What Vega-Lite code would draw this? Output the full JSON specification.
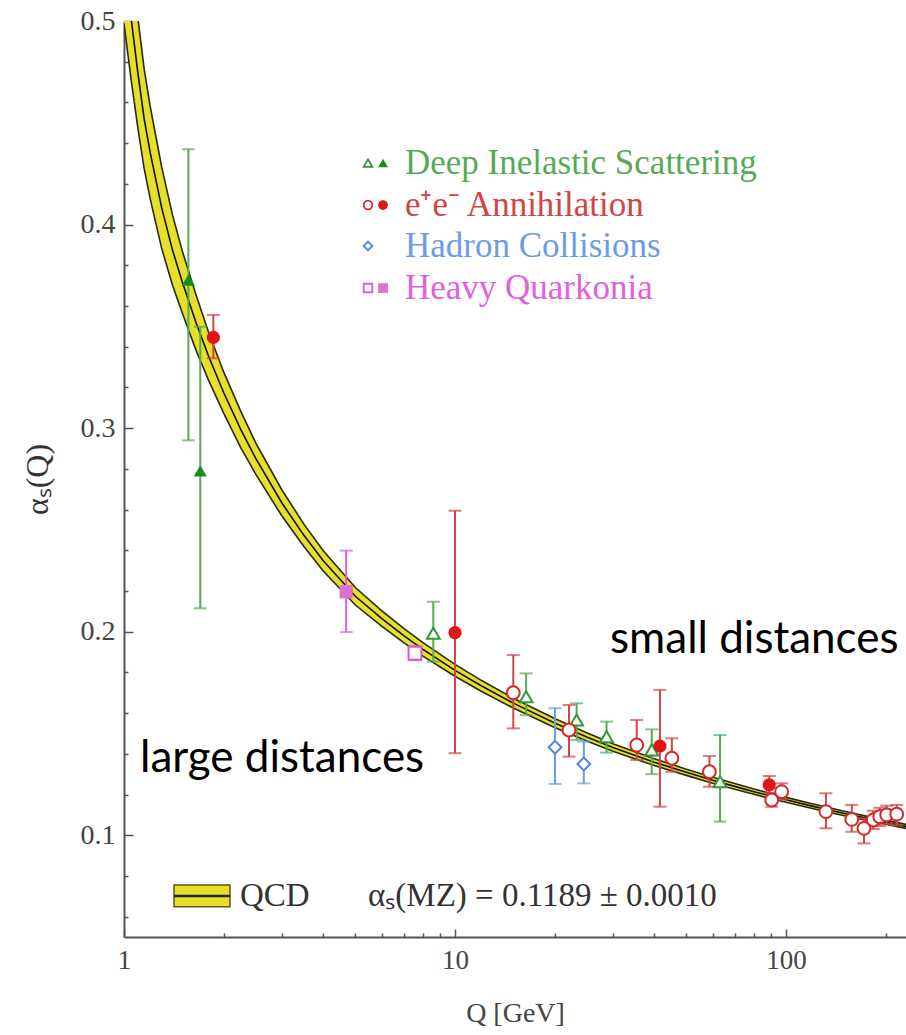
{
  "$schema": "https://vega.github.io/schema/vega-lite/v6.json",
  "width": 782,
  "height": 916,
  "autosize": "none",
  "padding": {"left": 124, "top": 21, "right": 0, "bottom": 98},
  "background": "white",
  "config": {"view": {"stroke": null}, "font": "Liberation Serif"},
  "datasets": {
    "curve": [
      {"Q": 1.00, "a": 0.533, "lo": 0.4989, "hi": 0.5671},
      {"Q": 1.05, "a": 0.5018, "lo": 0.4716, "hi": 0.5320},
      {"Q": 1.10, "a": 0.4751, "lo": 0.4480, "hi": 0.5022},
      {"Q": 1.15, "a": 0.4522, "lo": 0.4277, "hi": 0.4767},
      {"Q": 1.20, "a": 0.4353, "lo": 0.4126, "hi": 0.4580},
      {"Q": 1.30, "a": 0.4082, "lo": 0.3882, "hi": 0.4282},
      {"Q": 1.40, "a": 0.3877, "lo": 0.3704, "hi": 0.4050},
      {"Q": 1.50, "a": 0.3718, "lo": 0.3566, "hi": 0.3870},
      {"Q": 1.65, "a": 0.3519, "lo": 0.3383, "hi": 0.3655},
      {"Q": 1.80, "a": 0.3354, "lo": 0.3236, "hi": 0.3472},
      {"Q": 2.00, "a": 0.3175, "lo": 0.3074, "hi": 0.3276},
      {"Q": 2.25, "a": 0.2995, "lo": 0.2905, "hi": 0.3085},
      {"Q": 2.50, "a": 0.2851, "lo": 0.2774, "hi": 0.2928},
      {"Q": 3.00, "a": 0.2632, "lo": 0.2568, "hi": 0.2696},
      {"Q": 3.50, "a": 0.2472, "lo": 0.2417, "hi": 0.2527},
      {"Q": 4.00, "a": 0.2348, "lo": 0.2298, "hi": 0.2398},
      {"Q": 5.00, "a": 0.2174, "lo": 0.2131, "hi": 0.2217},
      {"Q": 6.00, "a": 0.2065, "lo": 0.2027, "hi": 0.2103},
      {"Q": 7.00, "a": 0.1981, "lo": 0.1946, "hi": 0.2016},
      {"Q": 8.00, "a": 0.1913, "lo": 0.1880, "hi": 0.1946},
      {"Q": 10, "a": 0.1810, "lo": 0.1781, "hi": 0.1839},
      {"Q": 12, "a": 0.1734, "lo": 0.1707, "hi": 0.1761},
      {"Q": 15, "a": 0.1649, "lo": 0.1625, "hi": 0.1673},
      {"Q": 20, "a": 0.1551, "lo": 0.1529, "hi": 0.1573},
      {"Q": 25, "a": 0.1483, "lo": 0.1463, "hi": 0.1503},
      {"Q": 30, "a": 0.1431, "lo": 0.1413, "hi": 0.1449},
      {"Q": 40, "a": 0.1359, "lo": 0.1342, "hi": 0.1376},
      {"Q": 50, "a": 0.1309, "lo": 0.1294, "hi": 0.1324},
      {"Q": 60, "a": 0.1270, "lo": 0.1255, "hi": 0.1285},
      {"Q": 70, "a": 0.1240, "lo": 0.1226, "hi": 0.1254},
      {"Q": 80, "a": 0.1214, "lo": 0.1201, "hi": 0.1227},
      {"Q": 91.19, "a": 0.1190, "lo": 0.1177, "hi": 0.1203},
      {"Q": 100, "a": 0.1174, "lo": 0.1162, "hi": 0.1186},
      {"Q": 120, "a": 0.1143, "lo": 0.1131, "hi": 0.1155},
      {"Q": 150, "a": 0.1107, "lo": 0.1096, "hi": 0.1118},
      {"Q": 180, "a": 0.1079, "lo": 0.1069, "hi": 0.1089},
      {"Q": 200, "a": 0.1064, "lo": 0.1054, "hi": 0.1074},
      {"Q": 231, "a": 0.1043, "lo": 0.1033, "hi": 0.1053}
    ],
    "pts": [
      {"Q": 1.565, "a": 0.3728, "lo": 0.294, "hi": 0.437, "group": "DIS", "nnlo": true},
      {"Q": 1.70, "a": 0.279, "lo": 0.2115, "hi": 0.3498, "group": "DIS", "nnlo": true},
      {"Q": 8.6, "a": 0.1992, "lo": 0.1853, "hi": 0.2147, "group": "DIS", "nnlo": false},
      {"Q": 16.4, "a": 0.168, "lo": 0.159, "hi": 0.1795, "group": "DIS", "nnlo": false},
      {"Q": 23.3, "a": 0.1566, "lo": 0.1468, "hi": 0.1648, "group": "DIS", "nnlo": false},
      {"Q": 28.7, "a": 0.1484, "lo": 0.1406, "hi": 0.1558, "group": "DIS", "nnlo": false},
      {"Q": 39.3, "a": 0.1419, "lo": 0.130, "hi": 0.152, "group": "DIS", "nnlo": false},
      {"Q": 63.2, "a": 0.1263, "lo": 0.1067, "hi": 0.1492, "group": "DIS", "nnlo": false},
      {"Q": 1.862, "a": 0.3446, "lo": 0.3343, "hi": 0.3556, "group": "ee", "nnlo": true},
      {"Q": 10.0, "a": 0.1995, "lo": 0.1403, "hi": 0.2594, "group": "ee", "nnlo": true},
      {"Q": 15.0, "a": 0.170, "lo": 0.1525, "hi": 0.1885, "group": "ee", "nnlo": false},
      {"Q": 22.1, "a": 0.1517, "lo": 0.1386, "hi": 0.164, "group": "ee", "nnlo": false},
      {"Q": 35.4, "a": 0.1443, "lo": 0.137, "hi": 0.1566, "group": "ee", "nnlo": false},
      {"Q": 41.6, "a": 0.1438, "lo": 0.114, "hi": 0.1714, "group": "ee", "nnlo": true},
      {"Q": 45.2, "a": 0.1378, "lo": 0.1312, "hi": 0.1476, "group": "ee", "nnlo": false},
      {"Q": 58.7, "a": 0.1312, "lo": 0.1238, "hi": 0.1389, "group": "ee", "nnlo": false},
      {"Q": 89, "a": 0.1247, "lo": 0.1207, "hi": 0.1291, "group": "ee", "nnlo": true},
      {"Q": 97, "a": 0.1214, "lo": 0.1175, "hi": 0.1255, "group": "ee", "nnlo": false},
      {"Q": 90.5, "a": 0.1173, "lo": 0.114, "hi": 0.1205, "group": "ee", "nnlo": false},
      {"Q": 132, "a": 0.1116, "lo": 0.1034, "hi": 0.1206, "group": "ee", "nnlo": false},
      {"Q": 158, "a": 0.1078, "lo": 0.1017, "hi": 0.1149, "group": "ee", "nnlo": false},
      {"Q": 172, "a": 0.1034, "lo": 0.096, "hi": 0.1083, "group": "ee", "nnlo": false},
      {"Q": 183.5, "a": 0.1075, "lo": 0.103, "hi": 0.112, "group": "ee", "nnlo": false},
      {"Q": 192, "a": 0.1091, "lo": 0.1045, "hi": 0.1135, "group": "ee", "nnlo": false},
      {"Q": 201.5, "a": 0.110, "lo": 0.1055, "hi": 0.1145, "group": "ee", "nnlo": false},
      {"Q": 216, "a": 0.1104, "lo": 0.105, "hi": 0.1149, "group": "ee", "nnlo": false},
      {"Q": 20.05, "a": 0.1432, "lo": 0.1252, "hi": 0.1624, "group": "hadron", "nnlo": false},
      {"Q": 24.5, "a": 0.135, "lo": 0.1255, "hi": 0.146, "group": "hadron", "nnlo": false},
      {"Q": 4.69, "a": 0.2196, "lo": 0.1998, "hi": 0.2398, "group": "quark", "nnlo": true},
      {"Q": 7.57, "a": 0.1894, "lo": 0.186, "hi": 0.193, "group": "quark", "nnlo": false}
    ],
    "legsym": [
      {"Q": 5.46, "a": 0.4302, "group": "DIS", "nnlo": false},
      {"Q": 6.06, "a": 0.4302, "group": "DIS", "nnlo": true},
      {"Q": 5.46, "a": 0.4096, "group": "ee", "nnlo": false},
      {"Q": 6.06, "a": 0.4096, "group": "ee", "nnlo": true},
      {"Q": 5.46, "a": 0.3895, "group": "hadron", "nnlo": false},
      {"Q": 5.46, "a": 0.3688, "group": "quark", "nnlo": false},
      {"Q": 6.06, "a": 0.3688, "group": "quark", "nnlo": true}
    ],
    "legtxt": [
      {"Q": 7.06, "a": 0.4302, "group": "DIS", "label": "Deep Inelastic Scattering"},
      {"Q": 7.06, "a": 0.4096, "group": "ee", "label": "e⁺e⁻  Annihilation"},
      {"Q": 7.06, "a": 0.3895, "group": "hadron", "label": "Hadron Collisions"},
      {"Q": 7.06, "a": 0.3688, "group": "quark", "label": "Heavy Quarkonia"}
    ],
    "notes": [
      {"Q": 1.118, "a": 0.131, "label": "large distances"},
      {"Q": 29.4, "a": 0.1895, "label": "small distances"}
    ],
    "key": [
      {"Q": 1.416, "Q2": 2.09, "a": 0.0648, "a2": 0.0756, "am": 0.0702}
    ],
    "keytxt": [
      {"Q": 2.24, "a": 0.0702, "label": "QCD"},
      {"Q": 5.46, "a": 0.0702, "label": "αₛ(MZ) = 0.1189 ± 0.0010"}
    ]
  },
  "layer": [
    {
      "data": {"name": "curve"},
      "mark": {"type": "area", "color": "#e6df2c", "clip": true},
      "encoding": {
        "x": {
          "field": "Q", "type": "quantitative",
          "scale": {"type": "log", "domain": [1, 230.4], "nice": false},
          "axis": {
            "title": "Q [GeV]",
            "values": [1, 2, 3, 4, 5, 6, 7, 8, 9, 10, 20, 30, 40, 50, 60, 70, 80, 90, 100, 200],
            "labelExpr": "indexof([1, 10, 100], datum.value) >= 0 ? format(datum.value, 'd') : ''",
            "tickSize": {"condition": {"test": "indexof([1, 10, 100], datum.value) >= 0", "value": -8}, "value": -4},
            "tickColor": "#555",
            "tickWidth": 1.5,
            "domainColor": "#555",
            "domainWidth": 2,
            "grid": false,
            "labelFlush": false,
            "labelOverlap": false,
            "labelFont": "Liberation Serif",
            "labelFontSize": 27,
            "labelColor": "#444",
            "labelPadding": 18,
            "titleFont": "Liberation Serif",
            "titleFontSize": 28,
            "titleFontWeight": "normal",
            "titleColor": "#444",
            "titlePadding": 22
          }
        },
        "y": {
          "field": "lo", "type": "quantitative",
          "scale": {"domain": [0.05, 0.5], "nice": false, "zero": false},
          "axis": {
            "title": "αₛ(Q)",
            "values": [0.06, 0.08, 0.1, 0.12, 0.14, 0.16, 0.18, 0.2, 0.22, 0.24, 0.26, 0.28, 0.3, 0.32, 0.34, 0.36, 0.38, 0.4, 0.42, 0.44, 0.46, 0.48, 0.5],
            "labelExpr": "abs(datum.value * 10 - round(datum.value * 10)) < 0.001 ? format(datum.value, '.1f') : ''",
            "tickSize": {"condition": {"test": "abs(datum.value * 10 - round(datum.value * 10)) < 0.001", "value": -9}, "value": -4},
            "tickColor": "#555",
            "tickWidth": 1.5,
            "domainColor": "#555",
            "domainWidth": 2,
            "grid": false,
            "labelOverlap": false,
            "labelFont": "Liberation Serif",
            "labelFontSize": 28,
            "labelColor": "#444",
            "labelPadding": 18,
            "titleFont": "Liberation Serif",
            "titleFontSize": 32,
            "titleFontWeight": "normal",
            "titleColor": "#333",
            "titlePadding": 26
          }
        },
        "y2": {"field": "hi"}
      }
    },
    {
      "data": {"name": "curve"},
      "mark": {"type": "line", "color": "#2a2a10", "strokeWidth": 1.6, "clip": true},
      "encoding": {"x": {"field": "Q", "type": "quantitative"}, "y": {"field": "hi", "type": "quantitative"}}
    },
    {
      "data": {"name": "curve"},
      "mark": {"type": "line", "color": "#2a2a10", "strokeWidth": 1.6, "clip": true},
      "encoding": {"x": {"field": "Q", "type": "quantitative"}, "y": {"field": "lo", "type": "quantitative"}}
    },
    {
      "data": {"name": "curve"},
      "mark": {"type": "line", "color": "#111111", "strokeWidth": 1.6, "clip": true},
      "encoding": {"x": {"field": "Q", "type": "quantitative"}, "y": {"field": "a", "type": "quantitative"}}
    },
    {
      "mark": {"type": "rule", "color": "#555", "strokeWidth": 2},
      "encoding": {"y": {"datum": 0.5}}
    },
    {
      "data": {"name": "pts"},
      "mark": {"type": "rule", "strokeWidth": 2},
      "encoding": {
        "x": {"field": "Q", "type": "quantitative"},
        "y": {"field": "lo", "type": "quantitative"},
        "y2": {"field": "hi"},
        "color": {"field": "group", "type": "nominal", "legend": null,
          "scale": {"domain": ["DIS", "ee", "hadron", "quark"], "range": ["#55ab55", "#d24545", "#6f9be6", "#e060e0"]}}
      }
    },
    {
      "data": {"name": "pts"},
      "mark": {"type": "tick", "orient": "horizontal", "size": 13, "thickness": 2},
      "encoding": {
        "x": {"field": "Q", "type": "quantitative"},
        "y": {"field": "lo", "type": "quantitative"},
        "color": {"field": "group", "type": "nominal", "legend": null}
      }
    },
    {
      "data": {"name": "pts"},
      "mark": {"type": "tick", "orient": "horizontal", "size": 13, "thickness": 2},
      "encoding": {
        "x": {"field": "Q", "type": "quantitative"},
        "y": {"field": "hi", "type": "quantitative"},
        "color": {"field": "group", "type": "nominal", "legend": null}
      }
    },
    {
      "data": {"name": "pts"},
      "transform": [{"filter": "!datum.nnlo"}],
      "mark": {"type": "point", "filled": false, "fill": "white", "fillOpacity": 1, "strokeWidth": 2, "size": 165, "opacity": 1},
      "encoding": {
        "x": {"field": "Q", "type": "quantitative"},
        "y": {"field": "a", "type": "quantitative"},
        "stroke": {"field": "group", "type": "nominal", "legend": null,
          "scale": {"domain": ["DIS", "ee", "hadron", "quark"], "range": ["#2f9a35", "#d42a2a", "#4f84e0", "#e050e0"]}},
        "shape": {"field": "group", "type": "nominal", "legend": null,
          "scale": {"domain": ["DIS", "ee", "hadron", "quark"], "range": ["triangle-up", "circle", "diamond", "square"]}}
      }
    },
    {
      "data": {"name": "pts"},
      "transform": [{"filter": "datum.nnlo"}],
      "mark": {"type": "point", "filled": true, "size": 175, "opacity": 1},
      "encoding": {
        "x": {"field": "Q", "type": "quantitative"},
        "y": {"field": "a", "type": "quantitative"},
        "fill": {"field": "group", "type": "nominal", "legend": null,
          "scale": {"domain": ["DIS", "ee", "hadron", "quark"], "range": ["#1b8a22", "#e01515", "#4f84e0", "#e070d0"]}},
        "shape": {"field": "group", "type": "nominal", "legend": null}
      }
    },
    {
      "data": {"name": "legsym"},
      "transform": [{"filter": "!datum.nnlo"}],
      "mark": {"type": "point", "filled": false, "fill": "white", "fillOpacity": 1, "strokeWidth": 1.8, "size": 75, "opacity": 1},
      "encoding": {
        "x": {"field": "Q", "type": "quantitative"},
        "y": {"field": "a", "type": "quantitative"},
        "stroke": {"field": "group", "type": "nominal", "legend": null},
        "shape": {"field": "group", "type": "nominal", "legend": null}
      }
    },
    {
      "data": {"name": "legsym"},
      "transform": [{"filter": "datum.nnlo"}],
      "mark": {"type": "point", "filled": true, "size": 95, "opacity": 1},
      "encoding": {
        "x": {"field": "Q", "type": "quantitative"},
        "y": {"field": "a", "type": "quantitative"},
        "fill": {"field": "group", "type": "nominal", "legend": null},
        "shape": {"field": "group", "type": "nominal", "legend": null}
      }
    },
    {
      "data": {"name": "legtxt"},
      "mark": {"type": "text", "align": "left", "baseline": "middle", "font": "Liberation Serif", "fontSize": 35},
      "encoding": {
        "x": {"field": "Q", "type": "quantitative"},
        "y": {"field": "a", "type": "quantitative"},
        "text": {"field": "label"},
        "color": {"field": "group", "type": "nominal", "legend": null}
      }
    },
    {
      "data": {"name": "key"},
      "mark": {"type": "rect", "fill": "#e6df2c", "stroke": "#5a5a10", "strokeWidth": 1.5},
      "encoding": {
        "x": {"field": "Q", "type": "quantitative"},
        "x2": {"field": "Q2"},
        "y": {"field": "a", "type": "quantitative"},
        "y2": {"field": "a2"}
      }
    },
    {
      "data": {"name": "key"},
      "mark": {"type": "rule", "color": "#222", "strokeWidth": 2.5},
      "encoding": {
        "x": {"field": "Q", "type": "quantitative"},
        "x2": {"field": "Q2"},
        "y": {"field": "am", "type": "quantitative"}
      }
    },
    {
      "data": {"name": "keytxt"},
      "mark": {"type": "text", "align": "left", "baseline": "middle", "font": "Liberation Serif", "fontSize": 33, "color": "#333"},
      "encoding": {
        "x": {"field": "Q", "type": "quantitative"},
        "y": {"field": "a", "type": "quantitative"},
        "text": {"field": "label"}
      }
    },
    {
      "data": {"name": "notes"},
      "mark": {"type": "text", "align": "left", "baseline": "alphabetic", "font": "Lato", "fontSize": 44, "color": "#000"},
      "encoding": {
        "x": {"field": "Q", "type": "quantitative"},
        "y": {"field": "a", "type": "quantitative"},
        "text": {"field": "label"}
      }
    }
  ]
}
